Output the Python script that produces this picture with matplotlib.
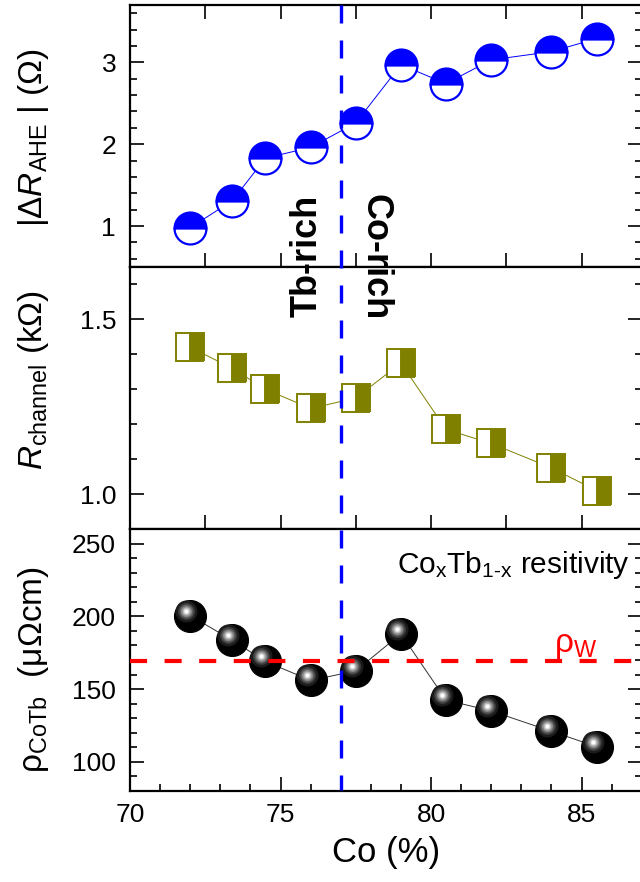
import matplotlib
matplotlib.use("Agg")
import matplotlib.pyplot as plt
from matplotlib.ticker import MultipleLocator, NullFormatter
from matplotlib.lines import Line2D
import matplotlib.transforms as mtransforms

# ---------------- data ----------------
co = [72, 73.4, 74.5, 76, 77.5, 79, 80.5, 82, 84, 85.5]
r_ahe = [0.98, 1.31, 1.83, 1.96, 2.26, 2.97, 2.74, 3.03, 3.13, 3.29]
r_channel = [1.42, 1.36, 1.30, 1.245, 1.275, 1.375, 1.185, 1.145, 1.075, 1.01]
rho = [200.5, 183.5, 169, 156, 162.5, 188, 142.5, 135, 121, 110.5]
rho_w = 169
boundary = 77

plt.rcParams['font.family'] = ['Liberation Sans', 'DejaVu Sans']
plt.rcParams['mathtext.fontset'] = 'custom'
plt.rcParams['mathtext.rm'] = 'Liberation Sans'
plt.rcParams['mathtext.it'] = 'Liberation Sans:italic'
plt.rcParams['mathtext.bf'] = 'Liberation Sans:bold'

W, H = 640, 882
fig = plt.figure(figsize=(W / 100, H / 100), dpi=100)

left = 130 / W
width = (641.7 - 130) / W
ph = 262 / H
ax1 = fig.add_axes([left, (H - 267) / H, width, ph])
ax2 = fig.add_axes([left, (H - 529) / H, width, ph])
ax3 = fig.add_axes([left, (H - 791) / H, width, ph])

TICK_FS = 19
LABEL_FS = 24

for ax in (ax1, ax2, ax3):
    ax.set_xlim(70, 87)
    for s in ax.spines.values():
        s.set_linewidth(1.6)
    ax.tick_params(axis='both', which='major', direction='in', length=10,
                   width=1.2, labelsize=TICK_FS)
    ax.tick_params(axis='both', which='minor', direction='in', length=5,
                   width=1.2)
    ax.tick_params(axis='y', left=True, right=True, which='both')
    ax.tick_params(axis='y', which='major', pad=10)

# top panel
ax1.xaxis.set_major_locator(MultipleLocator(2.5))
ax1.xaxis.set_major_formatter(NullFormatter())
ax1.tick_params(axis='x', top=True, bottom=True, labelbottom=False)
ax1.set_ylim(0.5, 3.7)
ax1.yaxis.set_major_locator(MultipleLocator(1))
ax1.yaxis.set_minor_locator(MultipleLocator(0.2))
ax1.plot(co, r_ahe, color='#0000FF', lw=0.7, zorder=2)
ax1.plot(co, r_ahe, linestyle='none', marker='o', ms=23, mew=1.6,
         mec='#0000FF', mfc='#0000FF', fillstyle='top',
         markerfacecoloralt='white', zorder=3)
ax1.set_ylabel('|Δ$R_{\\mathrm{AHE}}$ | (Ω)', fontsize=LABEL_FS)
ax1.yaxis.set_label_coords(-0.155, 0.492)

# middle panel
ax2.xaxis.set_major_locator(MultipleLocator(2.5))
ax2.xaxis.set_major_formatter(NullFormatter())
ax2.tick_params(axis='x', top=False, bottom=True, labelbottom=False)
ax2.set_ylim(0.9, 1.65)
ax2.yaxis.set_major_locator(MultipleLocator(0.5))
ax2.yaxis.set_minor_locator(MultipleLocator(0.1))
ax2.plot(co, r_channel, color='#808000', lw=0.7, zorder=2)
ax2.plot(co, r_channel, linestyle='none', marker='s', ms=20, mew=1.4,
         mec='#808000', mfc='#808000', fillstyle='right',
         markerfacecoloralt='white', zorder=3)
ax2.set_ylabel('$R_{\\mathrm{channel}}$ (kΩ)', fontsize=LABEL_FS)
ax2.yaxis.set_label_coords(-0.155, 0.569)

# bottom panel
ax3.xaxis.set_major_locator(MultipleLocator(5))
ax3.xaxis.set_minor_locator(MultipleLocator(1))
ax3.tick_params(axis='x', top=False, bottom=True, which='both')
ax3.tick_params(axis='x', which='major', pad=9)
ax3.set_ylim(80, 260)
ax3.yaxis.set_major_locator(MultipleLocator(50))
ax3.yaxis.set_minor_locator(MultipleLocator(10))
ax3.plot(co, rho, color='#333333', lw=0.7, zorder=2)
ax3.plot(co, rho, linestyle='none', marker='o', ms=23, mew=0.8,
         mec='black', mfc='black', zorder=3)
layers = [(11, '#1c1c1c'), (8.5, '#3a3a3a'), (7, '#5e5e5e'), (5.5, '#8a8a8a'),
          (4, '#b8b8b8'), (2.6, '#e6e6e6'), (1.6, 'white')]
hl = mtransforms.offset_copy(ax3.transData, fig=fig, x=-4, y=5, units='dots')
for r, c in layers:
    ax3.plot(co, rho, linestyle='none', marker='o', ms=2 * r * 0.72,
             mew=0, mfc=c, transform=hl, zorder=4)
ax3.axhline(rho_w, color='#FF0000', lw=3, linestyle=(0, (4.1, 4.2)), zorder=5)
ax3.text(84.1, rho_w + 0.5, 'ρ$_{\\mathrm{W}}$', color='#FF0000', fontsize=24,
         ha='left', va='bottom', zorder=6)
ax3.text(0.977, 0.924, 'Co$_{\\mathrm{x}}$Tb$_{\\text{1-x}}$ resitivity',
         transform=ax3.transAxes, fontsize=21.5, ha='right', va='top')
ax3.set_ylabel('ρ$_{\\mathrm{CoTb}}$  (μΩcm)', fontsize=LABEL_FS)
ax3.yaxis.set_label_coords(-0.155, 0.462)
ax3.set_xlabel('Co (%)', fontsize=25, labelpad=6)

# vertical boundary line spanning all panels
bt = mtransforms.blended_transform_factory(ax3.transData, fig.transFigure)
fig.add_artist(Line2D([boundary, boundary], [(H - 5) / H, (H - 790) / H],
                      transform=bt, color='#0000FF', lw=2.4,
                      linestyle=(0, (5.4, 5.1)), zorder=10))

fig.text(307 / W, (H - 256) / H, 'Tb-rich', rotation=90, fontsize=26,
         fontweight='bold', ha='center', va='center')
fig.text(375 / W, (H - 257) / H, 'Co-rich', rotation=270, fontsize=26,
         fontweight='bold', ha='center', va='center')

fig.savefig('out.png', dpi=100)
